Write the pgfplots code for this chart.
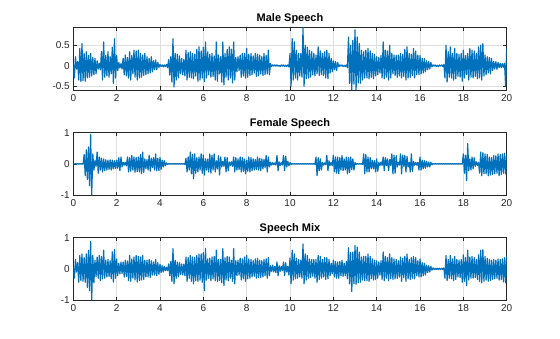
\documentclass[border=0pt]{standalone}
\usepackage{pgfplots}
\pgfplotsset{compat=1.18}
\usepackage{pgfplotstable}
\usepackage{fontspec}
\setmainfont{Liberation Sans}
\definecolor{mblue}{RGB}{0,114,189}
\definecolor{axgray}{RGB}{38,38,38}
\definecolor{gridgray}{RGB}{223,223,223}

% sampled waveform values, one every 0.05 s from 0 to 20 s
\pgfplotstableread[row sep=\\,header=false]{
0.05\\ -0.30\\ 0.22\\ -0.08\\ 0.10\\ -0.35\\ 0.42\\ -0.39\\ 0.54\\ -0.36\\
0.30\\ -0.38\\ 0.34\\ -0.30\\ 0.25\\ -0.28\\ 0.30\\ -0.25\\ 0.20\\ -0.22\\
0.18\\ -0.20\\ 0.12\\ -0.08\\ 0.06\\ -0.10\\ 0.35\\ -0.35\\ 0.58\\ -0.28\\
0.25\\ -0.25\\ 0.34\\ -0.28\\ 0.22\\ -0.20\\ 0.45\\ -0.43\\ 0.66\\ -0.30\\
0.25\\ -0.12\\ 0.08\\ -0.06\\ 0.05\\ -0.08\\ 0.18\\ -0.22\\ 0.26\\ -0.25\\
0.20\\ -0.30\\ 0.34\\ -0.35\\ 0.25\\ -0.20\\ 0.38\\ -0.28\\ 0.36\\ -0.35\\
0.38\\ -0.30\\ 0.30\\ -0.28\\ 0.26\\ -0.24\\ 0.30\\ -0.22\\ 0.22\\ -0.20\\
0.18\\ -0.18\\ 0.22\\ -0.15\\ 0.12\\ -0.10\\ 0.14\\ -0.10\\ 0.08\\ -0.04\\
0.03\\ -0.02\\ 0.02\\ -0.03\\ 0.02\\ -0.02\\ 0.03\\ -0.05\\ 0.15\\ -0.23\\
0.22\\ -0.40\\ 0.66\\ -0.52\\ 0.30\\ -0.35\\ 0.28\\ -0.30\\ 0.24\\ -0.20\\
0.18\\ -0.22\\ 0.15\\ -0.25\\ 0.38\\ -0.35\\ 0.32\\ -0.28\\ 0.34\\ -0.30\\
0.30\\ -0.32\\ 0.28\\ -0.25\\ 0.40\\ -0.38\\ 0.46\\ -0.35\\ 0.36\\ -0.30\\
0.45\\ -0.39\\ 0.58\\ -0.30\\ 0.34\\ -0.22\\ 0.28\\ -0.28\\ 0.30\\ -0.26\\
0.24\\ -0.35\\ 0.58\\ -0.38\\ 0.26\\ -0.20\\ 0.22\\ -0.40\\ 0.58\\ -0.47\\
0.30\\ -0.28\\ 0.40\\ -0.35\\ 0.46\\ -0.30\\ 0.40\\ -0.42\\ 0.58\\ -0.35\\
0.20\\ -0.15\\ 0.22\\ -0.12\\ 0.26\\ -0.28\\ 0.30\\ -0.25\\ 0.30\\ -0.30\\
0.42\\ -0.28\\ 0.28\\ -0.24\\ 0.30\\ -0.22\\ 0.24\\ -0.18\\ 0.30\\ -0.26\\
0.28\\ -0.25\\ 0.26\\ -0.20\\ 0.22\\ -0.24\\ 0.30\\ -0.22\\ 0.25\\ -0.20\\
0.38\\ -0.22\\ 0.05\\ -0.02\\ 0.02\\ -0.01\\ 0.02\\ -0.01\\ 0.02\\ -0.01\\
0.01\\ -0.02\\ 0.02\\ -0.01\\ 0.02\\ -0.02\\ 0.01\\ -0.02\\ 0.02\\ -0.03\\
0.30\\ -0.50\\ 0.66\\ -0.35\\ 0.58\\ -0.30\\ 0.38\\ -0.35\\ 0.30\\ -0.25\\
0.30\\ -0.28\\ 0.93\\ -0.50\\ 0.50\\ -0.32\\ 0.45\\ -0.30\\ 0.38\\ -0.28\\
0.34\\ -0.22\\ 0.30\\ -0.25\\ 0.26\\ -0.20\\ 0.46\\ -0.24\\ 0.36\\ -0.22\\
0.30\\ -0.24\\ 0.34\\ -0.30\\ 0.38\\ -0.32\\ 0.30\\ -0.18\\ 0.18\\ -0.15\\
0.12\\ -0.10\\ 0.10\\ -0.12\\ 0.08\\ -0.03\\ 0.02\\ -0.01\\ 0.02\\ -0.02\\
0.01\\ -0.02\\ 0.02\\ -0.05\\ 0.70\\ -0.43\\ 0.50\\ -0.59\\ 0.62\\ -0.45\\
0.88\\ -0.59\\ 0.70\\ -0.42\\ 0.54\\ -0.43\\ 0.38\\ -0.35\\ 0.34\\ -0.30\\
0.38\\ -0.30\\ 0.42\\ -0.32\\ 0.36\\ -0.28\\ 0.30\\ -0.32\\ 0.28\\ -0.25\\
0.22\\ -0.22\\ 0.20\\ -0.18\\ 0.25\\ -0.30\\ 0.58\\ -0.32\\ 0.38\\ -0.28\\
0.36\\ -0.35\\ 0.50\\ -0.30\\ 0.30\\ -0.20\\ 0.26\\ -0.24\\ 0.25\\ -0.28\\
0.26\\ -0.25\\ 0.30\\ -0.30\\ 0.28\\ -0.26\\ 0.40\\ -0.35\\ 0.46\\ -0.30\\
0.30\\ -0.28\\ 0.28\\ -0.24\\ 0.42\\ -0.30\\ 0.36\\ -0.22\\ 0.26\\ -0.22\\
0.25\\ -0.20\\ 0.18\\ -0.18\\ 0.17\\ -0.15\\ 0.12\\ -0.10\\ 0.10\\ -0.08\\
0.08\\ -0.03\\ 0.02\\ -0.01\\ 0.02\\ -0.02\\ 0.01\\ -0.02\\ 0.02\\ -0.01\\
0.02\\ -0.02\\ 0.03\\ -0.30\\ 0.50\\ -0.40\\ 0.34\\ -0.28\\ 0.46\\ -0.30\\
0.30\\ -0.35\\ 0.42\\ -0.32\\ 0.30\\ -0.26\\ 0.28\\ -0.28\\ 0.30\\ -0.38\\
0.38\\ -0.30\\ 0.25\\ -0.22\\ 0.30\\ -0.35\\ 0.42\\ -0.28\\ 0.38\\ -0.30\\
0.36\\ -0.26\\ 0.30\\ -0.32\\ 0.46\\ -0.30\\ 0.50\\ -0.35\\ 0.54\\ -0.25\\
0.26\\ -0.22\\ 0.22\\ -0.18\\ 0.20\\ -0.20\\ 0.18\\ -0.12\\ 0.10\\ -0.08\\
0.10\\ -0.09\\ 0.08\\ -0.05\\ 0.06\\ -0.05\\ 0.05\\ -0.04\\ 0.06\\ -0.50\\
0.42\\
}\tmale

\pgfplotstableread[row sep=\\,header=false]{
0.01\\ -0.01\\ 0.01\\ -0.01\\ 0.01\\ -0.01\\ 0.01\\ -0.01\\ 0.01\\ -0.01\\
0.30\\ -0.38\\ 0.45\\ -0.50\\ 0.54\\ -0.70\\ 0.95\\ -1.00\\ 0.32\\ -0.20\\
0.10\\ -0.08\\ 0.38\\ -0.30\\ 0.22\\ -0.20\\ 0.18\\ -0.26\\ 0.16\\ -0.22\\
0.13\\ -0.20\\ 0.12\\ -0.18\\ 0.13\\ -0.20\\ 0.12\\ -0.16\\ 0.10\\ -0.15\\
0.12\\ -0.14\\ 0.20\\ -0.22\\ 0.22\\ -0.10\\ 0.05\\ -0.04\\ 0.05\\ -0.06\\
0.22\\ -0.26\\ 0.20\\ -0.24\\ 0.27\\ -0.20\\ 0.22\\ -0.27\\ 0.20\\ -0.25\\
0.22\\ -0.26\\ 0.30\\ -0.32\\ 0.38\\ -0.28\\ 0.16\\ -0.15\\ 0.14\\ -0.20\\
0.27\\ -0.24\\ 0.18\\ -0.12\\ 0.20\\ -0.20\\ 0.32\\ -0.22\\ 0.18\\ -0.22\\
0.20\\ -0.18\\ 0.12\\ -0.10\\ 0.10\\ -0.06\\ 0.03\\ -0.02\\ 0.01\\ -0.01\\
0.01\\ -0.01\\ 0.01\\ -0.01\\ 0.01\\ -0.01\\ 0.01\\ -0.01\\ 0.01\\ -0.01\\
0.01\\ -0.01\\ 0.01\\ -0.02\\ 0.18\\ -0.26\\ 0.22\\ -0.20\\ 0.38\\ -0.32\\
0.30\\ -0.48\\ 0.32\\ -0.30\\ 0.20\\ -0.26\\ 0.22\\ -0.20\\ 0.32\\ -0.30\\
0.28\\ -0.36\\ 0.16\\ -0.20\\ 0.15\\ -0.26\\ 0.32\\ -0.30\\ 0.28\\ -0.20\\
0.32\\ -0.26\\ 0.10\\ -0.16\\ 0.26\\ -0.36\\ 0.22\\ -0.10\\ 0.08\\ -0.08\\
0.22\\ -0.26\\ 0.20\\ -0.22\\ 0.06\\ -0.05\\ 0.07\\ -0.08\\ 0.22\\ -0.26\\
0.20\\ -0.20\\ 0.16\\ -0.18\\ 0.22\\ -0.26\\ 0.20\\ -0.24\\ 0.16\\ -0.32\\
0.12\\ -0.24\\ 0.22\\ -0.26\\ 0.20\\ -0.22\\ 0.16\\ -0.20\\ 0.14\\ -0.18\\
0.22\\ -0.20\\ 0.18\\ -0.22\\ 0.16\\ -0.16\\ 0.14\\ -0.12\\ 0.27\\ -0.26\\
0.22\\ -0.10\\ 0.05\\ -0.04\\ 0.04\\ -0.03\\ 0.03\\ -0.04\\ 0.27\\ -0.22\\
0.06\\ -0.05\\ 0.04\\ -0.04\\ 0.27\\ -0.22\\ 0.25\\ -0.10\\ 0.08\\ -0.06\\
0.04\\ -0.02\\ 0.01\\ -0.01\\ 0.01\\ -0.01\\ 0.01\\ -0.01\\ 0.01\\ -0.01\\
0.01\\ -0.01\\ 0.01\\ -0.01\\ 0.01\\ -0.01\\ 0.01\\ -0.01\\ 0.01\\ -0.01\\
0.01\\ -0.01\\ 0.01\\ -0.02\\ 0.22\\ -0.38\\ 0.20\\ -0.22\\ 0.16\\ -0.20\\
0.05\\ -0.04\\ 0.03\\ -0.03\\ 0.27\\ -0.22\\ 0.10\\ -0.05\\ 0.04\\ -0.06\\
0.27\\ -0.26\\ 0.22\\ -0.30\\ 0.22\\ -0.32\\ 0.20\\ -0.20\\ 0.27\\ -0.22\\
0.16\\ -0.20\\ 0.22\\ -0.32\\ 0.20\\ -0.28\\ 0.22\\ -0.18\\ 0.16\\ -0.20\\
0.04\\ -0.02\\ 0.01\\ -0.01\\ 0.01\\ -0.01\\ 0.01\\ -0.02\\ 0.32\\ -0.32\\
0.30\\ -0.26\\ 0.22\\ -0.26\\ 0.20\\ -0.16\\ 0.11\\ -0.16\\ 0.10\\ -0.26\\
0.16\\ -0.24\\ 0.05\\ -0.05\\ 0.06\\ -0.05\\ 0.22\\ -0.22\\ 0.20\\ -0.06\\
0.16\\ -0.22\\ 0.14\\ -0.05\\ 0.32\\ -0.32\\ 0.28\\ -0.30\\ 0.26\\ -0.10\\
0.05\\ -0.04\\ 0.32\\ -0.32\\ 0.28\\ -0.08\\ 0.27\\ -0.26\\ 0.24\\ -0.10\\
0.05\\ -0.26\\ 0.32\\ -0.24\\ 0.08\\ -0.05\\ 0.04\\ -0.04\\ 0.05\\ -0.20\\
0.22\\ -0.20\\ 0.12\\ -0.16\\ 0.10\\ -0.14\\ 0.08\\ -0.10\\ 0.06\\ -0.10\\
0.05\\ -0.03\\ 0.01\\ -0.01\\ 0.01\\ -0.01\\ 0.01\\ -0.01\\ 0.01\\ -0.01\\
0.01\\ -0.01\\ 0.01\\ -0.01\\ 0.01\\ -0.01\\ 0.01\\ -0.01\\ 0.01\\ -0.01\\
0.01\\ -0.01\\ 0.01\\ -0.01\\ 0.01\\ -0.01\\ 0.01\\ -0.01\\ 0.01\\ -0.01\\
0.32\\ -0.30\\ 0.28\\ -0.54\\ 0.65\\ -0.22\\ 0.16\\ -0.20\\ 0.22\\ -0.16\\
0.20\\ -0.08\\ 0.06\\ -0.05\\ 0.05\\ -0.30\\ 0.38\\ -0.38\\ 0.36\\ -0.32\\
0.32\\ -0.32\\ 0.30\\ -0.38\\ 0.22\\ -0.36\\ 0.20\\ -0.34\\ 0.27\\ -0.32\\
0.26\\ -0.30\\ 0.32\\ -0.38\\ 0.30\\ -0.34\\ 0.32\\ -0.30\\ 0.34\\ -0.32\\
0.30\\
}\tfemale

\pgfplotstableread[row sep=\\,header=false]{
0.05\\ -0.30\\ 0.30\\ -0.10\\ 0.20\\ -0.43\\ 0.43\\ -0.38\\ 0.48\\ -0.40\\
0.36\\ -0.43\\ 0.48\\ -0.60\\ 0.60\\ -0.70\\ 0.88\\ -1.00\\ 0.43\\ -0.45\\
0.28\\ -0.25\\ 0.38\\ -0.30\\ 0.43\\ -0.38\\ 0.40\\ -0.32\\ 0.60\\ -0.30\\
0.28\\ -0.26\\ 0.30\\ -0.25\\ 0.26\\ -0.32\\ 0.55\\ -0.43\\ 0.62\\ -0.30\\
0.32\\ -0.22\\ 0.18\\ -0.16\\ 0.22\\ -0.15\\ 0.22\\ -0.26\\ 0.28\\ -0.24\\
0.25\\ -0.38\\ 0.43\\ -0.40\\ 0.32\\ -0.30\\ 0.38\\ -0.36\\ 0.43\\ -0.42\\
0.40\\ -0.38\\ 0.38\\ -0.36\\ 0.43\\ -0.34\\ 0.28\\ -0.26\\ 0.28\\ -0.26\\
0.30\\ -0.28\\ 0.26\\ -0.20\\ 0.22\\ -0.20\\ 0.30\\ -0.22\\ 0.20\\ -0.18\\
0.15\\ -0.12\\ 0.10\\ -0.10\\ 0.08\\ -0.06\\ 0.05\\ -0.06\\ 0.16\\ -0.22\\
0.24\\ -0.40\\ 0.65\\ -0.48\\ 0.28\\ -0.30\\ 0.22\\ -0.26\\ 0.20\\ -0.18\\
0.16\\ -0.20\\ 0.15\\ -0.22\\ 0.38\\ -0.40\\ 0.36\\ -0.30\\ 0.43\\ -0.40\\
0.38\\ -0.48\\ 0.36\\ -0.38\\ 0.43\\ -0.40\\ 0.48\\ -0.36\\ 0.48\\ -0.43\\
0.52\\ -0.70\\ 0.65\\ -0.36\\ 0.32\\ -0.30\\ 0.34\\ -0.38\\ 0.38\\ -0.32\\
0.40\\ -0.38\\ 0.60\\ -0.40\\ 0.30\\ -0.38\\ 0.30\\ -0.45\\ 0.65\\ -0.54\\
0.36\\ -0.36\\ 0.40\\ -0.38\\ 0.38\\ -0.30\\ 0.28\\ -0.40\\ 0.65\\ -0.48\\
0.26\\ -0.22\\ 0.28\\ -0.20\\ 0.34\\ -0.36\\ 0.32\\ -0.32\\ 0.38\\ -0.40\\
0.43\\ -0.32\\ 0.32\\ -0.30\\ 0.30\\ -0.26\\ 0.26\\ -0.24\\ 0.32\\ -0.30\\
0.34\\ -0.28\\ 0.28\\ -0.28\\ 0.26\\ -0.26\\ 0.30\\ -0.22\\ 0.32\\ -0.30\\
0.36\\ -0.22\\ 0.10\\ -0.08\\ 0.12\\ -0.10\\ 0.08\\ -0.12\\ 0.22\\ -0.22\\
0.10\\ -0.08\\ 0.08\\ -0.06\\ 0.22\\ -0.22\\ 0.20\\ -0.10\\ 0.08\\ -0.20\\
0.35\\ -0.48\\ 0.60\\ -0.36\\ 0.48\\ -0.32\\ 0.34\\ -0.30\\ 0.30\\ -0.26\\
0.28\\ -0.30\\ 0.80\\ -0.48\\ 0.48\\ -0.36\\ 0.43\\ -0.30\\ 0.32\\ -0.28\\
0.30\\ -0.24\\ 0.30\\ -0.30\\ 0.30\\ -0.43\\ 0.43\\ -0.34\\ 0.40\\ -0.30\\
0.30\\ -0.26\\ 0.36\\ -0.34\\ 0.36\\ -0.32\\ 0.30\\ -0.22\\ 0.18\\ -0.16\\
0.28\\ -0.26\\ 0.24\\ -0.30\\ 0.22\\ -0.30\\ 0.24\\ -0.22\\ 0.28\\ -0.24\\
0.18\\ -0.22\\ 0.24\\ -0.32\\ 0.68\\ -0.48\\ 0.52\\ -0.73\\ 0.54\\ -0.48\\
0.75\\ -0.50\\ 0.70\\ -0.45\\ 0.54\\ -0.43\\ 0.38\\ -0.36\\ 0.40\\ -0.38\\
0.40\\ -0.38\\ 0.48\\ -0.40\\ 0.40\\ -0.32\\ 0.32\\ -0.36\\ 0.28\\ -0.34\\
0.26\\ -0.30\\ 0.22\\ -0.20\\ 0.26\\ -0.34\\ 0.54\\ -0.38\\ 0.40\\ -0.30\\
0.36\\ -0.38\\ 0.48\\ -0.32\\ 0.36\\ -0.34\\ 0.32\\ -0.32\\ 0.30\\ -0.30\\
0.26\\ -0.26\\ 0.38\\ -0.40\\ 0.34\\ -0.28\\ 0.40\\ -0.40\\ 0.48\\ -0.32\\
0.30\\ -0.34\\ 0.36\\ -0.30\\ 0.40\\ -0.32\\ 0.36\\ -0.22\\ 0.26\\ -0.26\\
0.32\\ -0.26\\ 0.20\\ -0.22\\ 0.18\\ -0.20\\ 0.12\\ -0.12\\ 0.10\\ -0.10\\
0.08\\ -0.04\\ 0.03\\ -0.02\\ 0.02\\ -0.02\\ 0.02\\ -0.02\\ 0.02\\ -0.02\\
0.02\\ -0.02\\ 0.03\\ -0.30\\ 0.43\\ -0.38\\ 0.30\\ -0.30\\ 0.43\\ -0.32\\
0.32\\ -0.38\\ 0.40\\ -0.34\\ 0.30\\ -0.26\\ 0.28\\ -0.28\\ 0.30\\ -0.43\\
0.45\\ -0.40\\ 0.36\\ -0.54\\ 0.60\\ -0.36\\ 0.38\\ -0.30\\ 0.40\\ -0.30\\
0.36\\ -0.28\\ 0.30\\ -0.34\\ 0.45\\ -0.40\\ 0.60\\ -0.45\\ 0.62\\ -0.40\\
0.40\\ -0.36\\ 0.34\\ -0.40\\ 0.30\\ -0.38\\ 0.28\\ -0.34\\ 0.30\\ -0.32\\
0.28\\ -0.30\\ 0.32\\ -0.36\\ 0.30\\ -0.34\\ 0.32\\ -0.42\\ 0.36\\ -0.45\\
0.43\\
}\tmix

\pgfplotsset{speech/.style={
  scale only axis, width=433.4pt,
  xmin=0, xmax=20, xtick={0,2,...,20},
  grid=major, major grid style={gridgray, line width=0.5pt},
  axis line style={axgray, line width=0.5pt},
  tick style={axgray, line width=0.5pt},
  tick align=inside, major tick length=3.5pt,
  ticklabel style={font=\fontsize{10}{12}\selectfont, text=axgray},
  xticklabel style={yshift=-1pt},
  /pgf/number format/assume math mode=true,
  title style={font=\bfseries\fontsize{11}{13}\selectfont, text=black, at={(0.5,1)}, anchor=south, yshift=-6pt},
}}
\pgfplotsset{wave/.style={draw=mblue, line width=1.2pt, line join=round, mark=none}}

\begin{document}
\begin{tikzpicture}
\path[use as bounding box] (0,0) rectangle (560pt,338pt);
\begin{axis}[speech, at={(73.3pt,248pt)}, anchor=south west, height=62.7pt,
  ymin=-0.593, ymax=0.937, ytick={-0.5,0,0.5}, title={Male Speech}]
\addplot[wave] table[x expr=\coordindex*0.05, y index=0]{\tmale};
\end{axis}
\begin{axis}[speech, at={(73.3pt,143pt)}, anchor=south west, height=62.3pt,
  ymin=-1, ymax=1, ytick={-1,0,1}, title={Female Speech}]
\addplot[wave] table[x expr=\coordindex*0.05, y index=0]{\tfemale};
\end{axis}
\begin{axis}[speech, at={(73.3pt,38pt)}, anchor=south west, height=62.3pt,
  ymin=-1, ymax=1, ytick={-1,0,1}, title={Speech Mix}]
\addplot[wave] table[x expr=\coordindex*0.05, y index=0]{\tmix};
\end{axis}
\end{tikzpicture}
\end{document}
